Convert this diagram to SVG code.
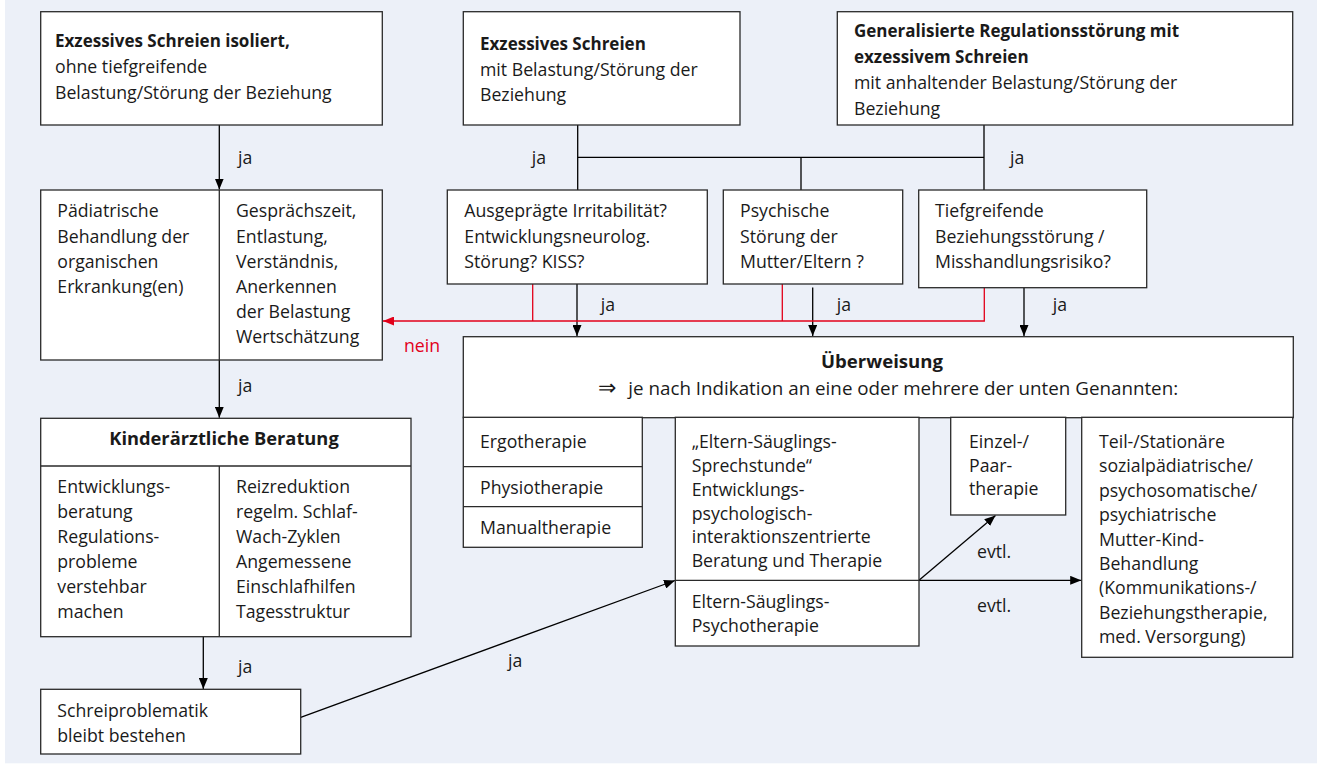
<svg xmlns="http://www.w3.org/2000/svg" width="1317" height="767" viewBox="0 0 1317 767">
<style>
.bg{fill:#ECF0F8}
.box{fill:#fff;stroke:#2a2a2a;stroke-width:1.3}
.div{stroke:#2a2a2a;stroke-width:1.3;fill:none}
text{font-family:"Open Sans","Liberation Sans",sans-serif;font-size:17.7px;fill:#1a1a1a}
.b{font-weight:bold;font-size:17px}
.red{fill:#E2001A}
.ln{stroke:#000;stroke-width:1.3;fill:none}
.rl{stroke:#E2001A;stroke-width:1.3;fill:none}
</style>
<defs>
<marker id="ah" markerUnits="userSpaceOnUse" markerWidth="11" markerHeight="9" refX="11" refY="4.5" orient="auto"><path d="M0,0 L11,4.5 L0,9 z" fill="#000"/></marker>
<marker id="ahr" markerUnits="userSpaceOnUse" markerWidth="11" markerHeight="9" refX="11" refY="4.5" orient="auto"><path d="M0,0 L11,4.5 L0,9 z" fill="#E2001A"/></marker>
</defs>
<rect class="bg" x="5" y="0" width="1312" height="763.3"/>

<g id="connectors">
<path class="ln" d="M219.3,125 V189.5" marker-end="url(#ah)"/>
<path class="ln" d="M577.7,125 V190 M577.7,157.3 H984 M801,157.3 V190 M984,125 V190"/>
<path class="ln" d="M577,284 V336" marker-end="url(#ah)"/>
<path class="ln" d="M812.7,287.5 V336" marker-end="url(#ah)"/>
<path class="ln" d="M1024,287.7 V336" marker-end="url(#ah)"/>
<path class="rl" d="M532.7,284 V321 M782.3,284 V321"/>
<path class="rl" d="M984.3,287.7 V321 H383" marker-end="url(#ahr)"/>
<path class="ln" d="M219.3,360 V417.8" marker-end="url(#ah)"/>
<path class="ln" d="M203.3,636.7 V689" marker-end="url(#ah)"/>
<path class="ln" d="M300.7,717.3 L675,580.5" marker-end="url(#ah)"/>
<path class="ln" d="M919,580.3 H1081.2" marker-end="url(#ah)"/>
<path class="ln" d="M919,580.3 L995.5,515.5" marker-end="url(#ah)"/>
<text x="238" y="164">ja</text>
<text x="531.7" y="164">ja</text>
<text x="1010" y="164">ja</text>
<text x="600.7" y="311">ja</text>
<text x="836.7" y="311">ja</text>
<text x="1052.7" y="311">ja</text>
<text x="238" y="392">ja</text>
<text x="238" y="673">ja</text>
<text x="508" y="667">ja</text>
<text class="red" x="404" y="352">nein</text>
<text x="977" y="558">evtl.</text>
<text x="977" y="612">evtl.</text>
</g>

<g id="n1">
<rect class="box" x="40.7" y="11.7" width="341.6" height="113.3"/>
<text x="55" y="47.3"><tspan class="b">Exzessives Schreien isoliert,</tspan><tspan x="55" y="73">ohne tiefgreifende</tspan><tspan x="55" y="98.5">Belastung/Störung der Beziehung</tspan></text>
</g>
<g id="n2">
<rect class="box" x="463.3" y="11.7" width="276.7" height="113.3"/>
<text x="480" y="50.3"><tspan class="b">Exzessives Schreien</tspan><tspan x="480" y="75.5">mit Belastung/Störung der</tspan><tspan x="480" y="100.5">Beziehung</tspan></text>
</g>
<g id="n3">
<rect class="box" x="837.3" y="11.7" width="455.4" height="113.3"/>
<text x="854" y="36.5"><tspan class="b">Generalisierte Regulationsstörung mit</tspan><tspan class="b" x="854" y="62.8">exzessivem Schreien</tspan><tspan x="854" y="89">mit anhaltender Belastung/Störung der</tspan><tspan x="854" y="114.5">Beziehung</tspan></text>
</g>

<g id="n4">
<rect class="box" x="40.7" y="190" width="341.6" height="170"/>
<line class="div" x1="219.3" y1="190" x2="219.3" y2="360"/>
<text x="57.3" y="217.3"><tspan>Pädiatrische</tspan><tspan x="57.3" y="242.5">Behandlung der</tspan><tspan x="57.3" y="267.5">organischen</tspan><tspan x="57.3" y="292.7">Erkrankung(en)</tspan></text>
<text x="236" y="217.3"><tspan>Gesprächszeit,</tspan><tspan x="236" y="242.5">Entlastung,</tspan><tspan x="236" y="267.5">Verständnis,</tspan><tspan x="236" y="292.7">Anerkennen</tspan><tspan x="236" y="317.7">der Belastung</tspan><tspan x="236" y="342.7">Wertschätzung</tspan></text>
</g>

<g id="n5">
<rect class="box" x="447.3" y="190" width="260" height="94"/>
<text x="464.3" y="217.3"><tspan>Ausgeprägte Irritabilität?</tspan><tspan x="464.3" y="242.5">Entwicklungsneurolog.</tspan><tspan x="464.3" y="267.5">Störung? KISS?</tspan></text>
</g>
<g id="n6">
<rect class="box" x="723.3" y="190" width="179.4" height="94"/>
<text x="740" y="217.3"><tspan>Psychische</tspan><tspan x="740" y="242.5">Störung der</tspan><tspan x="740" y="267.5">Mutter/Eltern ?</tspan></text>
</g>
<g id="n7">
<rect class="box" x="918.7" y="190" width="228" height="97.7"/>
<text x="935" y="217.3"><tspan>Tiefgreifende</tspan><tspan x="935" y="242.5">Beziehungsstörung /</tspan><tspan x="935" y="267.5">Misshandlungsrisiko?</tspan></text>
</g>

<g id="n8">
<rect class="box" x="463.3" y="336.7" width="830" height="81"/>
<text class="b" x="882" y="368.3" text-anchor="middle" style="font-size:18.6px">Überweisung</text>
<text x="598.3" y="395" style="font-size:18.8px"><tspan style="font-size:22px">⇒</tspan><tspan x="628.3">je nach Indikation an eine oder mehrere der unten Genannten:</tspan></text>
</g>

<g id="n9">
<rect class="box" x="463.3" y="417.3" width="179" height="130"/>
<line class="div" x1="463.3" y1="466.7" x2="642.3" y2="466.7"/>
<line class="div" x1="463.3" y1="506.7" x2="642.3" y2="506.7"/>
<text x="480" y="448.3">Ergotherapie</text>
<text x="480" y="494">Physiotherapie</text>
<text x="480" y="534">Manualtherapie</text>
</g>

<g id="n10">
<rect class="box" x="675.3" y="417.3" width="243.7" height="228.7"/>
<line class="div" x1="675.3" y1="580.3" x2="919" y2="580.3"/>
<text x="691.7" y="448.3"><tspan>„Eltern-Säuglings-</tspan><tspan x="691.7" y="472">Sprechstunde“</tspan><tspan x="691.7" y="495.8">Entwicklungs-</tspan><tspan x="691.7" y="519.5">psychologisch-</tspan><tspan x="691.7" y="543.2">interaktionszentrierte</tspan><tspan x="691.7" y="567">Beratung und Therapie</tspan></text>
<text x="691.7" y="608"><tspan>Eltern-Säuglings-</tspan><tspan x="691.7" y="632">Psychotherapie</tspan></text>
</g>

<g id="n11">
<rect class="box" x="950.7" y="417.3" width="115" height="97.7"/>
<text x="969" y="448.3"><tspan>Einzel-/</tspan><tspan x="969" y="471.8">Paar-</tspan><tspan x="969" y="495.3">therapie</tspan></text>
</g>

<g id="n12">
<rect class="box" x="1081.7" y="417.3" width="211" height="240"/>
<text x="1099" y="448"><tspan>Teil-/Stationäre</tspan><tspan x="1099" y="472.4">sozialpädiatrische/</tspan><tspan x="1099" y="496.8">psychosomatische/</tspan><tspan x="1099" y="521.2">psychiatrische</tspan><tspan x="1099" y="545.6">Mutter-Kind-</tspan><tspan x="1099" y="570">Behandlung</tspan><tspan x="1099" y="594.4">(Kommunikations-/</tspan><tspan x="1099" y="618.8">Beziehungstherapie,</tspan><tspan x="1099" y="643.2">med. Versorgung)</tspan></text>
</g>

<g id="n13">
<rect class="box" x="40.7" y="418.3" width="370.3" height="218.4"/>
<line class="div" x1="40.7" y1="466" x2="411" y2="466"/>
<line class="div" x1="219.3" y1="466" x2="219.3" y2="636.7"/>
<text class="b" x="224" y="445" text-anchor="middle" style="font-size:18.3px">Kinderärztliche Beratung</text>
<text x="57.3" y="493.3"><tspan>Entwicklungs-</tspan><tspan x="57.3" y="518.3">beratung</tspan><tspan x="57.3" y="543.3">Regulations-</tspan><tspan x="57.3" y="568.3">probleme</tspan><tspan x="57.3" y="593.3">verstehbar</tspan><tspan x="57.3" y="618.3">machen</tspan></text>
<text x="236" y="493.3"><tspan>Reizreduktion</tspan><tspan x="236" y="518.3">regelm. Schlaf-</tspan><tspan x="236" y="543.3">Wach-Zyklen</tspan><tspan x="236" y="568.3">Angemessene</tspan><tspan x="236" y="593.3">Einschlafhilfen</tspan><tspan x="236" y="618.3">Tagesstruktur</tspan></text>
</g>

<g id="n14">
<rect class="box" x="40.7" y="689.3" width="260" height="64.7"/>
<text x="57.3" y="716.7"><tspan>Schreiproblematik</tspan><tspan x="57.3" y="741.7">bleibt bestehen</tspan></text>
</g>
</svg>
